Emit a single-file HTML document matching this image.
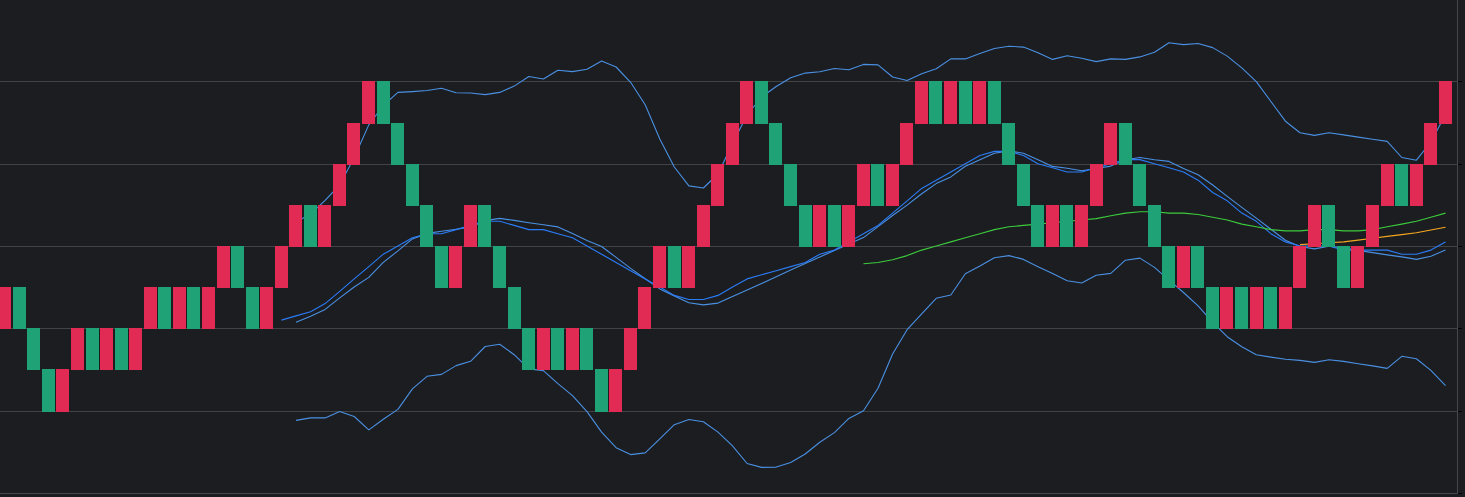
<!DOCTYPE html>
<html lang="en"><head><meta charset="utf-8"><title>Renko chart</title>
<style>
html,body{margin:0;padding:0;background:#1c1d21;overflow:hidden}
body{width:1465px;height:497px;font-family:"Liberation Sans",sans-serif}
svg{display:block}
.g{fill:#424347}
.a{fill:#46474c}
.t{fill:#000}
.l{fill:none;stroke-width:1.1;stroke-linejoin:round;stroke-linecap:butt}
.r{fill:#e12b54;stroke:#e12b54}
.n{fill:#1fa276;stroke:#1fa276}
.b{shape-rendering:crispEdges;stroke-width:1}
</style></head><body>
<svg width="1465" height="497" viewBox="0 0 1465 497">
<rect width="1465" height="497" fill="#1c1d21"/>
<g shape-rendering="crispEdges">
<rect class="g" x="0" y="81" width="1457" height="1"/>
<rect class="g" x="0" y="164" width="1457" height="1"/>
<rect class="g" x="0" y="246" width="1457" height="1"/>
<rect class="g" x="0" y="328" width="1457" height="1"/>
<rect class="g" x="0" y="411" width="1457" height="1"/>
<rect class="a" x="0" y="493" width="1458" height="1"/>
<rect class="a" x="1457" y="0" width="1" height="494"/>
<rect class="t" x="1458" y="81" width="4" height="1"/>
<rect class="t" x="1458" y="164" width="4" height="1"/>
<rect class="t" x="1458" y="246" width="4" height="1"/>
<rect class="t" x="1458" y="328" width="4" height="1"/>
<rect class="t" x="1458" y="411" width="4" height="1"/>
<rect class="t" x="1458" y="493" width="4" height="1"/>
</g>
<polyline class="l" stroke="#4a90e2" points="296.0,222.0 310.6,214.0 325.1,200.3 339.7,185.0 354.2,157.5 368.8,124.9 383.3,105.5 397.9,92.4 412.4,91.6 427.0,90.5 441.5,88.3 456.1,92.7 470.6,93.0 485.2,94.6 499.7,92.4 514.2,86.1 528.8,76.5 543.4,79.0 557.9,70.2 572.5,71.6 587.0,69.2 601.6,60.9 616.1,67.0 630.6,82.3 645.2,104.7 659.8,139.0 674.3,167.0 688.9,185.9 703.4,188.0 718.0,174.0 732.5,143.5 747.1,115.0 761.6,97.0 776.2,86.5 790.7,77.8 805.2,73.1 819.8,71.8 834.4,68.5 848.9,69.8 863.5,64.4 878.0,64.9 892.6,77.0 907.1,80.5 921.7,73.7 936.2,68.8 950.8,58.9 965.3,58.9 979.9,53.4 994.4,48.5 1009.0,46.3 1023.5,47.1 1038.0,52.8 1052.6,59.4 1067.2,55.8 1081.7,58.3 1096.2,61.6 1110.8,58.9 1125.4,59.4 1139.9,56.9 1154.5,52.3 1169.0,42.7 1183.5,44.6 1198.1,43.5 1212.7,47.6 1227.2,56.1 1241.8,67.9 1256.3,81.6 1270.9,101.5 1285.4,121.2 1300.0,132.7 1314.5,135.4 1329.0,132.7 1343.6,134.9 1358.2,137.1 1372.7,139.3 1387.2,141.4 1401.8,157.5 1416.4,160.2 1430.9,142.0 1445.5,114.6"/>
<polyline class="l" stroke="#4a90e2" points="296.0,420.4 310.6,417.9 325.1,417.9 339.7,411.6 354.2,416.5 368.8,429.9 383.3,419.3 397.9,409.4 412.4,388.9 427.0,376.3 441.5,374.4 456.1,365.6 470.6,361.3 485.2,346.5 499.7,344.3 514.2,354.7 528.8,368.9 543.4,370.6 557.9,383.7 572.5,395.7 587.0,411.6 601.6,432.1 616.1,447.7 630.6,454.6 645.2,452.9 659.8,438.9 674.3,424.7 688.9,419.5 703.4,421.7 718.0,432.1 732.5,445.8 747.1,463.5 761.6,467.4 776.2,467.1 790.7,462.4 805.2,454.0 819.8,442.2 834.4,432.6 848.9,418.4 863.5,410.7 878.0,388.3 892.6,354.0 907.1,329.7 921.7,313.9 936.2,298.3 950.8,295.0 965.3,273.7 979.9,266.0 994.4,257.8 1009.0,255.6 1023.5,259.4 1038.0,266.8 1052.6,273.4 1067.2,280.8 1081.7,283.0 1096.2,275.3 1110.8,273.4 1125.4,260.2 1139.9,258.1 1154.5,267.4 1169.0,280.2 1183.5,292.5 1198.1,305.9 1212.7,322.3 1227.2,336.7 1241.8,346.8 1256.3,354.7 1270.9,357.1 1285.4,359.2 1300.0,360.4 1314.5,362.4 1329.0,359.8 1343.6,361.4 1358.2,363.7 1372.7,365.9 1387.2,368.4 1401.8,356.3 1416.4,358.7 1430.9,370.4 1445.5,385.6"/>
<polyline class="l" stroke="#4a90e2" points="296.0,322.3 310.6,316.3 325.1,309.4 339.7,297.9 354.2,287.0 368.8,277.4 383.3,262.4 397.9,250.9 412.4,238.9 427.0,233.4 441.5,231.3 456.1,229.2 470.6,227.2 485.2,220.6 499.7,218.4 514.2,220.4 528.8,222.7 543.4,224.8 557.9,226.9 572.5,233.6 587.0,240.4 601.6,246.5 616.1,257.4 630.6,268.4 645.2,278.8 659.8,288.9 674.3,295.9 688.9,302.7 703.4,304.9 718.0,303.1 732.5,296.5 747.1,290.0 761.6,283.5 776.2,276.8 790.7,270.1 805.2,263.6 819.8,257.0 834.4,250.6 848.9,244.1 863.5,237.6 878.0,226.6 892.6,215.5 907.1,205.1 921.7,193.8 936.2,183.6 950.8,176.9 965.3,166.3 979.9,159.7 994.4,153.2 1009.0,150.9 1023.5,153.2 1038.0,159.8 1052.6,166.4 1067.2,168.3 1081.7,170.7 1096.2,168.5 1110.8,166.1 1125.4,159.8 1139.9,157.5 1154.5,159.8 1169.0,161.4 1183.5,168.6 1198.1,174.7 1212.7,185.0 1227.2,196.4 1241.8,207.4 1256.3,218.1 1270.9,229.3 1285.4,240.2 1300.0,246.5 1314.5,248.9 1329.0,246.2 1343.6,248.1 1358.2,250.4 1372.7,252.6 1387.2,254.9 1401.8,256.9 1416.4,259.4 1430.9,256.2 1445.5,250.1"/>
<polyline class="l" stroke="#2a7cf6" points="281.4,320.1 296.0,315.9 310.6,311.8 325.1,303.6 339.7,291.3 354.2,278.9 368.8,266.6 383.3,254.2 397.9,246.0 412.4,237.8 427.0,233.7 441.5,233.7 456.1,229.6 470.6,225.4 485.2,221.3 499.7,221.3 514.2,225.4 528.8,229.6 543.4,229.6 557.9,233.7 572.5,237.8 587.0,246.0 601.6,254.2 616.1,262.5 630.6,270.7 645.2,278.9 659.8,287.1 674.3,295.4 688.9,299.5 703.4,299.5 718.0,295.4 732.5,287.1 747.1,278.9 761.6,274.8 776.2,270.7 790.7,266.6 805.2,262.5 819.8,254.2 834.4,250.1 848.9,241.9 863.5,233.7 878.0,225.4 892.6,213.1 907.1,200.8 921.7,188.4 936.2,180.2 950.8,172.0 965.3,163.7 979.9,155.5 994.4,151.4 1009.0,151.4 1023.5,155.5 1038.0,163.7 1052.6,167.8 1067.2,172.0 1081.7,172.0 1096.2,167.8 1110.8,163.7 1125.4,159.6 1139.9,159.6 1154.5,163.7 1169.0,167.8 1183.5,172.0 1198.1,180.2 1212.7,192.5 1227.2,200.8 1241.8,213.1 1256.3,221.3 1270.9,233.7 1285.4,241.9 1300.0,246.0 1314.5,246.0 1329.0,246.0 1343.6,250.1 1358.2,250.1 1372.7,250.1 1387.2,250.1 1401.8,254.2 1416.4,254.2 1430.9,250.1 1445.5,241.9"/>
<polyline class="l" stroke="#3ccb3c" points="863.5,263.8 878.0,262.5 892.6,259.7 907.1,255.6 921.7,250.1 936.2,246.0 950.8,241.9 965.3,237.8 979.9,233.7 994.4,229.6 1009.0,226.8 1023.5,225.4 1038.0,224.1 1052.6,222.7 1067.2,221.3 1081.7,220.0 1096.2,218.6 1110.8,215.8 1125.4,213.1 1139.9,211.7 1154.5,211.7 1169.0,213.1 1183.5,213.1 1198.1,214.5 1212.7,217.2 1227.2,220.0 1241.8,224.1 1256.3,226.8 1270.9,229.6 1285.4,230.9 1300.0,230.9 1314.5,229.6 1329.0,229.6 1343.6,230.9 1358.2,230.9 1372.7,229.6 1387.2,226.8 1401.8,224.1 1416.4,221.3 1430.9,217.2 1445.5,213.1"/>
<polyline class="l" stroke="#f5a81f" points="1300.0,244.6 1314.5,243.7 1329.0,242.8 1343.6,241.9 1358.2,240.1 1372.7,238.2 1387.2,236.4 1401.8,234.6 1416.4,232.8 1430.9,230.0 1445.5,227.3"/>
<g class="b">
<rect class="r" x="-1.5" y="287.5" width="12" height="41"/>
<rect class="n" x="13.5" y="287.5" width="12" height="41"/>
<rect class="n" x="27.5" y="328.5" width="12" height="41"/>
<rect class="n" x="42.5" y="369.5" width="12" height="42"/>
<rect class="r" x="56.5" y="369.5" width="12" height="42"/>
<rect class="r" x="71.5" y="328.5" width="12" height="41"/>
<rect class="n" x="86.5" y="328.5" width="12" height="41"/>
<rect class="r" x="100.5" y="328.5" width="12" height="41"/>
<rect class="n" x="115.5" y="328.5" width="12" height="41"/>
<rect class="r" x="129.5" y="328.5" width="12" height="41"/>
<rect class="r" x="144.5" y="287.5" width="12" height="41"/>
<rect class="n" x="158.5" y="287.5" width="12" height="41"/>
<rect class="r" x="173.5" y="287.5" width="12" height="41"/>
<rect class="n" x="187.5" y="287.5" width="12" height="41"/>
<rect class="r" x="202.5" y="287.5" width="12" height="41"/>
<rect class="r" x="217.5" y="246.5" width="12" height="41"/>
<rect class="n" x="231.5" y="246.5" width="12" height="41"/>
<rect class="n" x="246.5" y="287.5" width="12" height="41"/>
<rect class="r" x="260.5" y="287.5" width="12" height="41"/>
<rect class="r" x="275.5" y="246.5" width="12" height="41"/>
<rect class="r" x="289.5" y="205.5" width="12" height="41"/>
<rect class="n" x="304.5" y="205.5" width="12" height="41"/>
<rect class="r" x="318.5" y="205.5" width="12" height="41"/>
<rect class="r" x="333.5" y="164.5" width="12" height="41"/>
<rect class="r" x="347.5" y="123.5" width="12" height="41"/>
<rect class="r" x="362.5" y="81.5" width="12" height="42"/>
<rect class="n" x="377.5" y="81.5" width="12" height="42"/>
<rect class="n" x="391.5" y="123.5" width="12" height="41"/>
<rect class="n" x="406.5" y="164.5" width="12" height="41"/>
<rect class="n" x="420.5" y="205.5" width="12" height="41"/>
<rect class="n" x="435.5" y="246.5" width="12" height="41"/>
<rect class="r" x="449.5" y="246.5" width="12" height="41"/>
<rect class="r" x="464.5" y="205.5" width="12" height="41"/>
<rect class="n" x="478.5" y="205.5" width="12" height="41"/>
<rect class="n" x="493.5" y="246.5" width="12" height="41"/>
<rect class="n" x="508.5" y="287.5" width="12" height="41"/>
<rect class="n" x="522.5" y="328.5" width="12" height="41"/>
<rect class="r" x="537.5" y="328.5" width="12" height="41"/>
<rect class="n" x="551.5" y="328.5" width="12" height="41"/>
<rect class="r" x="566.5" y="328.5" width="12" height="41"/>
<rect class="n" x="580.5" y="328.5" width="12" height="41"/>
<rect class="n" x="595.5" y="369.5" width="12" height="42"/>
<rect class="r" x="609.5" y="369.5" width="12" height="42"/>
<rect class="r" x="624.5" y="328.5" width="12" height="41"/>
<rect class="r" x="638.5" y="287.5" width="12" height="41"/>
<rect class="r" x="653.5" y="246.5" width="12" height="41"/>
<rect class="n" x="668.5" y="246.5" width="12" height="41"/>
<rect class="r" x="682.5" y="246.5" width="12" height="41"/>
<rect class="r" x="697.5" y="205.5" width="12" height="41"/>
<rect class="r" x="711.5" y="164.5" width="12" height="41"/>
<rect class="r" x="726.5" y="123.5" width="12" height="41"/>
<rect class="r" x="740.5" y="81.5" width="12" height="42"/>
<rect class="n" x="755.5" y="81.5" width="12" height="42"/>
<rect class="n" x="769.5" y="123.5" width="12" height="41"/>
<rect class="n" x="784.5" y="164.5" width="12" height="41"/>
<rect class="n" x="799.5" y="205.5" width="12" height="41"/>
<rect class="r" x="813.5" y="205.5" width="12" height="41"/>
<rect class="n" x="828.5" y="205.5" width="12" height="41"/>
<rect class="r" x="842.5" y="205.5" width="12" height="41"/>
<rect class="r" x="857.5" y="164.5" width="12" height="41"/>
<rect class="n" x="871.5" y="164.5" width="12" height="41"/>
<rect class="r" x="886.5" y="164.5" width="12" height="41"/>
<rect class="r" x="900.5" y="123.5" width="12" height="41"/>
<rect class="r" x="915.5" y="81.5" width="12" height="42"/>
<rect class="n" x="929.5" y="81.5" width="12" height="42"/>
<rect class="r" x="944.5" y="81.5" width="12" height="42"/>
<rect class="n" x="959.5" y="81.5" width="12" height="42"/>
<rect class="r" x="973.5" y="81.5" width="12" height="42"/>
<rect class="n" x="988.5" y="81.5" width="12" height="42"/>
<rect class="n" x="1002.5" y="123.5" width="12" height="41"/>
<rect class="n" x="1017.5" y="164.5" width="12" height="41"/>
<rect class="n" x="1031.5" y="205.5" width="12" height="41"/>
<rect class="r" x="1046.5" y="205.5" width="12" height="41"/>
<rect class="n" x="1060.5" y="205.5" width="12" height="41"/>
<rect class="r" x="1075.5" y="205.5" width="12" height="41"/>
<rect class="r" x="1090.5" y="164.5" width="12" height="41"/>
<rect class="r" x="1104.5" y="123.5" width="12" height="41"/>
<rect class="n" x="1119.5" y="123.5" width="12" height="41"/>
<rect class="n" x="1133.5" y="164.5" width="12" height="41"/>
<rect class="n" x="1148.5" y="205.5" width="12" height="41"/>
<rect class="n" x="1162.5" y="246.5" width="12" height="41"/>
<rect class="r" x="1177.5" y="246.5" width="12" height="41"/>
<rect class="n" x="1191.5" y="246.5" width="12" height="41"/>
<rect class="n" x="1206.5" y="287.5" width="12" height="41"/>
<rect class="r" x="1220.5" y="287.5" width="12" height="41"/>
<rect class="n" x="1235.5" y="287.5" width="12" height="41"/>
<rect class="r" x="1250.5" y="287.5" width="12" height="41"/>
<rect class="n" x="1264.5" y="287.5" width="12" height="41"/>
<rect class="r" x="1279.5" y="287.5" width="12" height="41"/>
<rect class="r" x="1293.5" y="246.5" width="12" height="41"/>
<rect class="r" x="1308.5" y="205.5" width="12" height="41"/>
<rect class="n" x="1322.5" y="205.5" width="12" height="41"/>
<rect class="n" x="1337.5" y="246.5" width="12" height="41"/>
<rect class="r" x="1351.5" y="246.5" width="12" height="41"/>
<rect class="r" x="1366.5" y="205.5" width="12" height="41"/>
<rect class="r" x="1381.5" y="164.5" width="12" height="41"/>
<rect class="n" x="1395.5" y="164.5" width="12" height="41"/>
<rect class="r" x="1410.5" y="164.5" width="12" height="41"/>
<rect class="r" x="1424.5" y="123.5" width="12" height="41"/>
<rect class="r" x="1439.5" y="81.5" width="12" height="42"/>
</g>
</svg></body></html>
